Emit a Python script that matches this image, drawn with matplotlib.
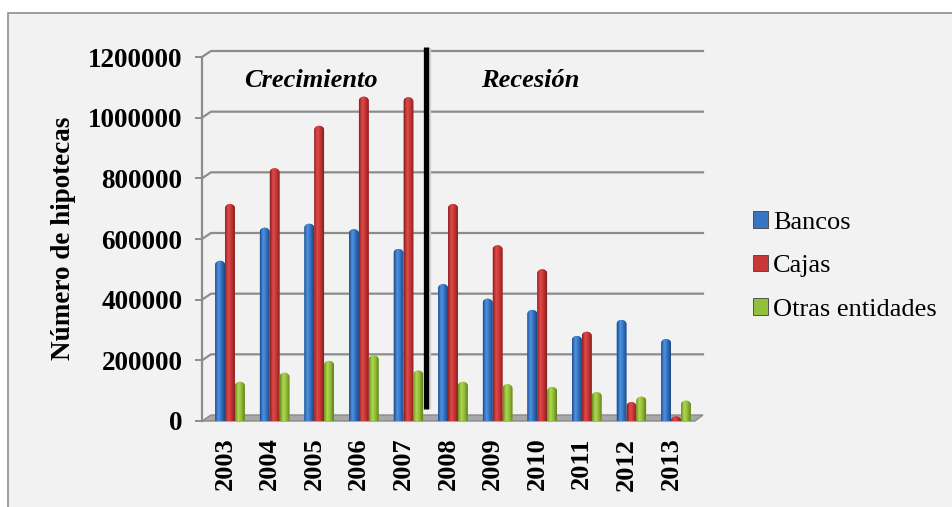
import numpy as np
import matplotlib
matplotlib.use("Agg")
import matplotlib.pyplot as plt
from matplotlib.colors import LinearSegmentedColormap
from matplotlib.patches import Patch, PathPatch, Polygon, Rectangle
from matplotlib.path import Path
from matplotlib.transforms import ScaledTranslation

# ---- data -----------------------------------------------------------------
years = ["2003", "2004", "2005", "2006", "2007", "2008",
         "2009", "2010", "2011", "2012", "2013"]
bancos = [515000, 624000, 637000, 619000, 554000, 438000,
          390000, 353000, 267000, 320000, 257000]
cajas = [702000, 820000, 960000, 1056000, 1054000, 702000,
         566000, 487000, 281000, 49000, 2000]
otras = [116000, 146000, 185000, 203000, 153000, 116000,
         108000, 99000, 82000, 67000, 54000]
series_names = ["Bancos", "Cajas", "Otras entidades"]
yticks = [0, 200000, 400000, 600000, 800000, 1000000, 1200000]

# ---- styling --------------------------------------------------------------
SERIF = "Liberation Serif"
BASE = {"Bancos": "#3575c4", "Cajas": "#c93636", "Otras entidades": "#93c03a"}
RAMPS = {
    "Bancos": ["#1f4c8a", "#4d93e2", "#3575c4", "#1c4680"],
    "Cajas": ["#8a2222", "#e24a4a", "#c93636", "#842020"],
    "Otras entidades": ["#6b8b20", "#b0d850", "#93c03a", "#62801c"],
}
GRID_GRAY = "#8c8c8c"

W, H, DPI = 952, 507, 100
AX_LEFT, AX_RIGHT, AX_BOTTOM, AX_TOP = 202, 703, 421, 40   # pixels from top-left
YMAX = (AX_BOTTOM - AX_TOP) * 1200000 / 364
PX_Y = YMAX / (AX_BOTTOM - AX_TOP)          # data units per vertical pixel
CAT_PX = 44.6                               # pixels between categories
X0 = -(230 - AX_LEFT) / CAT_PX
X1 = X0 + (AX_RIGHT - AX_LEFT) / CAT_PX
PX_X = 1 / CAT_PX                           # data units per horizontal pixel
WALL_DY = 6 * PX_Y                          # depth offset of the back wall
WALL_DX = 9 / (AX_RIGHT - AX_LEFT)          # same offset in axes fraction

fig = plt.figure(figsize=(W / DPI, H / DPI), dpi=DPI, facecolor="white")
fig.patches.append(Rectangle((8 / W, -0.05), 1.2, 1 - 13 / H + 0.05,
                             transform=fig.transFigure, facecolor="#f2f2f2",
                             edgecolor="#8e8e8e", lw=1.2, zorder=-10))

ax = fig.add_axes([AX_LEFT / W, 1 - AX_BOTTOM / H,
                   (AX_RIGHT - AX_LEFT) / W, (AX_BOTTOM - AX_TOP) / H])
ax.set_facecolor("none")
ax.set_xlim(X0, X1)
ax.set_ylim(0, YMAX)
ax.set_autoscale_on(False)

# back wall gridlines with the short perspective step at the left edge
ywall = ax.get_yaxis_transform()
for v in yticks[1:]:
    ax.plot([0, WALL_DX, 1], [v, v + WALL_DY, v + WALL_DY], color=GRID_GRAY,
            lw=1.6, transform=ywall, clip_on=False, zorder=1)

# floor slab
ax.add_patch(Polygon([(0, 0), (WALL_DX, WALL_DY), (1, WALL_DY), (1 - WALL_DX * 0.9, 0)],
                     closed=True, transform=ywall, facecolor="#a8a8a8",
                     edgecolor="#8a8a8a", lw=1, clip_on=False, zorder=1))

# cylinders
x = np.arange(len(years))
bar_w = 9.8 * PX_X
step = 9.9 * PX_X
cap_h = 4 * PX_Y
grad = np.linspace(0, 1, 64).reshape(1, -1)
for k, (name, vals) in enumerate(zip(series_names, [bancos, cajas, otras])):
    cmap = LinearSegmentedColormap.from_list(
        name, list(zip([0, 0.32, 0.62, 1], RAMPS[name])))
    bars = ax.bar(x + (k - 1) * step, vals, width=bar_w, color=BASE[name],
                  zorder=3, label=name)
    for r in bars:
        x0, w, h = r.get_x(), r.get_width(), r.get_height()
        t = np.linspace(0, np.pi, 24)
        arc = np.column_stack([x0 + w / 2 + (w / 2) * np.cos(t), h + cap_h * np.sin(t)])
        verts = np.vstack([[x0 + w, 0], arc, [x0, 0], [x0 + w, 0]])
        outline = PathPatch(Path(verts, closed=True), facecolor=BASE[name],
                            edgecolor="none", zorder=3)
        ax.add_patch(outline)
        r.set_visible(False)
        im = ax.imshow(grad, cmap=cmap, extent=[x0, x0 + w, 0, h + cap_h],
                       aspect="auto", interpolation="bilinear", zorder=4)
        im.set_clip_path(outline)

# divider between the two periods
DIV_X = 4.4
ax.plot([DIV_X + 3 * PX_X] * 2, [40000, 1230000], color="#cfcfcf", lw=3,
        solid_capstyle="butt", clip_on=False, zorder=5)
ax.plot([DIV_X] * 2, [40000, 1233000], color="black", lw=3.8,
        solid_capstyle="butt", clip_on=False, zorder=6)

ax.text(1.82, 1124000, "Crecimiento", fontfamily=SERIF, fontsize=19,
        fontweight="bold", fontstyle="italic", ha="center", va="center", zorder=7)
ax.text(6.73, 1124000, "Recesión", fontfamily=SERIF, fontsize=19,
        fontweight="bold", fontstyle="italic", ha="center", va="center", zorder=7)

# axes, ticks and labels
for side in ["top", "right", "bottom"]:
    ax.spines[side].set_visible(False)
ax.spines["left"].set_color(GRID_GRAY)
ax.spines["left"].set_linewidth(1.6)
ax.spines["left"].set_bounds(0, 1200000)

ax.set_yticks(yticks)
ax.set_yticklabels([str(v) for v in yticks], fontfamily=SERIF,
                   fontsize=19.5, fontweight="bold")
ax.tick_params(axis="y", length=5, width=1.4, color=GRID_GRAY, pad=9)

ax.set_xticks(x)
ax.set_xticklabels(years, rotation=90, fontfamily=SERIF, fontsize=19,
                   fontweight="bold")
ax.tick_params(axis="x", length=0, pad=12)
shift = ScaledTranslation(-5 / DPI, 0, fig.dpi_scale_trans)
for lab in ax.get_xticklabels():
    lab.set_transform(lab.get_transform() + shift)

fig.text(63 / W, 1 - 238 / H, "Número de hipotecas", rotation=90,
         fontfamily=SERIF, fontsize=19.5, fontweight="bold",
         ha="center", va="center")

handles = [Patch(facecolor=BASE[n], edgecolor="#404040", lw=0.6, label=n)
           for n in series_names]
fig.legend(handles=handles, loc="center left",
           bbox_to_anchor=(753 / W, 1 - 266 / H), frameon=False,
           prop={"family": SERIF, "size": 19}, handlelength=0.58,
           handleheight=0.58, handletextpad=0.17, labelspacing=0.8,
           borderpad=0, borderaxespad=0)

fig.savefig("out.png", dpi=DPI)
